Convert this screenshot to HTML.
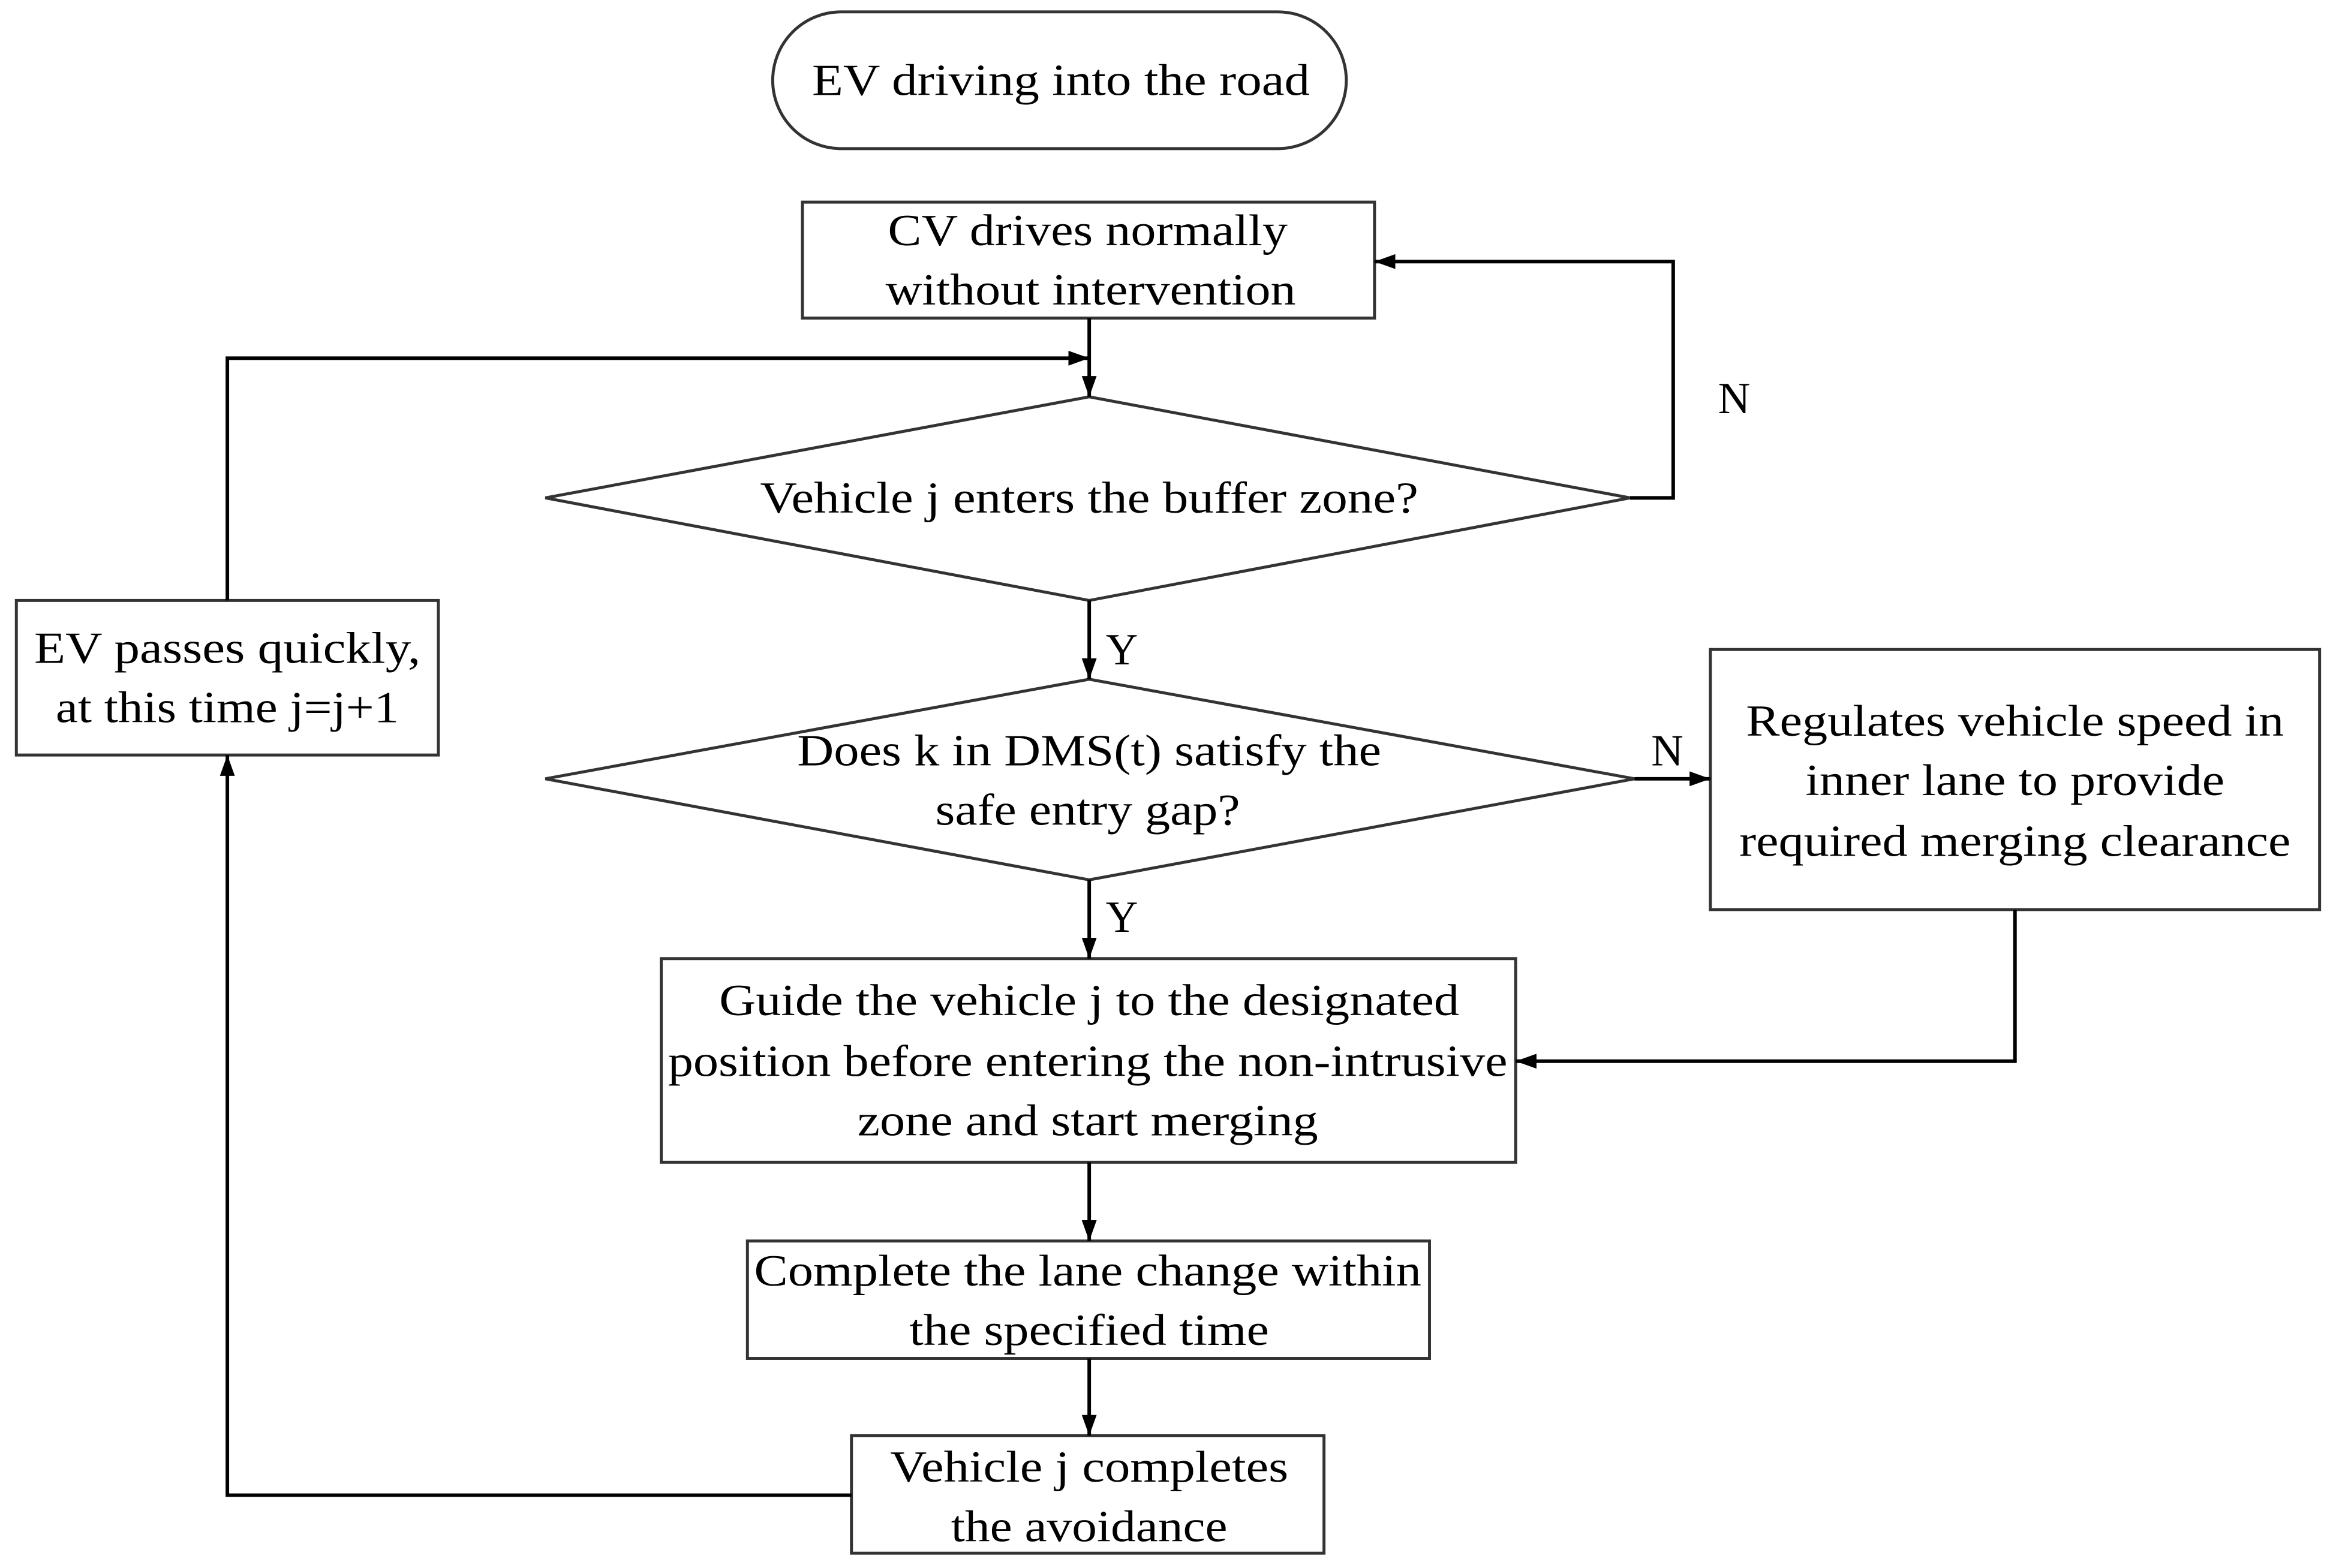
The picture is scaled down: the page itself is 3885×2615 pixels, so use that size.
<!DOCTYPE html>
<html><head><meta charset="utf-8"><style>html,body{margin:0;padding:0;background:#fff}svg{display:block}</style></head>
<body>
<svg width="3885" height="2615" viewBox="0 0 1568 1055" preserveAspectRatio="none" xmlns="http://www.w3.org/2000/svg">
<defs>
<marker id="a" viewBox="0 0 14 10" refX="14" refY="5" markerWidth="14" markerHeight="10" markerUnits="userSpaceOnUse" orient="auto"><path d="M0,0 L14,5 L0,10 z" fill="#000"/></marker>
</defs>
<g fill="#fff" stroke="#333" stroke-width="2">
<rect x="520" y="8" width="386" height="92" rx="46"/>
<rect x="540" y="136" width="385" height="78"/>
<polygon points="367,335 733,267 1097,335 733,404"/>
<polygon points="367,524 733,457 1100,524 733,592"/>
<rect x="1151" y="437" width="410" height="175"/>
<rect x="445" y="645" width="575" height="137"/>
<rect x="503" y="835" width="459" height="79"/>
<rect x="573" y="966" width="318" height="79"/>
<rect x="11" y="404" width="284" height="104"/>
</g>
<g fill="none" stroke="#000" stroke-width="2.4" marker-end="url(#a)">
<line x1="733" y1="214" x2="733" y2="267"/>
<polyline points="153,404 153,241 733,241"/>
<polyline points="1097,335 1126,335 1126,176 925,176"/>
<line x1="733" y1="404" x2="733" y2="457"/>
<line x1="1100" y1="524" x2="1151" y2="524"/>
<polyline points="1356,612 1356,714 1020,714"/>
<line x1="733" y1="592" x2="733" y2="645"/>
<line x1="733" y1="782" x2="733" y2="835"/>
<line x1="733" y1="914" x2="733" y2="966"/>
<polyline points="573,1006 153,1006 153,508"/>
</g>
<g font-family="'Liberation Serif', serif" font-size="30" fill="#000" text-anchor="middle">
<text x="714" y="64" textLength="335" lengthAdjust="spacingAndGlyphs">EV driving into the road</text>
<text x="732" y="165" textLength="269" lengthAdjust="spacingAndGlyphs">CV drives normally</text>
<text x="734" y="205" textLength="276" lengthAdjust="spacingAndGlyphs">without intervention</text>
<text x="733" y="345" textLength="443" lengthAdjust="spacingAndGlyphs">Vehicle j enters the buffer zone?</text>
<text x="733" y="515" textLength="393" lengthAdjust="spacingAndGlyphs">Does k in DMS(t) satisfy the</text>
<text x="732" y="555" textLength="205" lengthAdjust="spacingAndGlyphs">safe entry gap?</text>
<text x="1356" y="495" textLength="362" lengthAdjust="spacingAndGlyphs">Regulates vehicle speed in</text>
<text x="1356" y="535" textLength="282" lengthAdjust="spacingAndGlyphs">inner lane to provide</text>
<text x="1356" y="576" textLength="371" lengthAdjust="spacingAndGlyphs">required merging clearance</text>
<text x="733" y="683" textLength="498" lengthAdjust="spacingAndGlyphs">Guide the vehicle j to the designated</text>
<text x="732" y="724" textLength="565" lengthAdjust="spacingAndGlyphs">position before entering the non-intrusive</text>
<text x="732" y="764" textLength="310" lengthAdjust="spacingAndGlyphs">zone and start merging</text>
<text x="732" y="865" textLength="449" lengthAdjust="spacingAndGlyphs">Complete the lane change within</text>
<text x="733" y="905" textLength="242" lengthAdjust="spacingAndGlyphs">the specified time</text>
<text x="733" y="997" textLength="268" lengthAdjust="spacingAndGlyphs">Vehicle j completes</text>
<text x="733" y="1037" textLength="186" lengthAdjust="spacingAndGlyphs">the avoidance</text>
<text x="153" y="446" textLength="260" lengthAdjust="spacingAndGlyphs">EV passes quickly,</text>
<text x="153" y="486" textLength="231" lengthAdjust="spacingAndGlyphs">at this time j=j+1</text>
<text x="1167" y="278">N</text>
<text x="1122" y="515">N</text>
<text x="755" y="447">Y</text>
<text x="755" y="627">Y</text>
</g>
</svg>
</body></html>
